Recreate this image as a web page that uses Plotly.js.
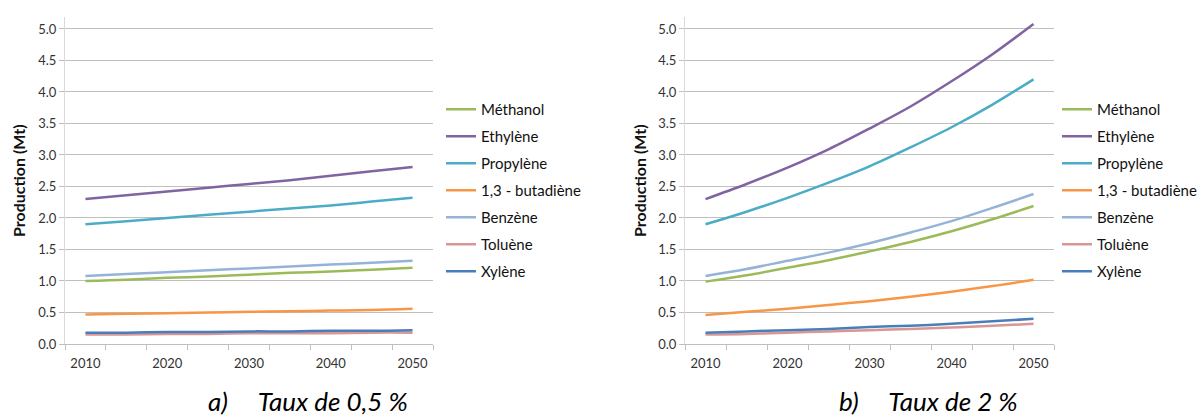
<!DOCTYPE html>
<html>
<head>
<meta charset="utf-8">
<script src="https://cdn.plot.ly/plotly-3.0.1.min.js"></script>
<style>html,body{margin:0;padding:0;background:#fff;}#chart{width:1204px;height:417px;}</style>
</head>
<body>
<div id="chart"></div>
<script>
const years = [2010, 2015, 2020, 2025, 2030, 2035, 2040, 2045, 2050];
const seriesNames = ["Méthanol", "Ethylène", "Propylène", "1,3 - butadiène", "Benzène", "Toluène", "Xylène"];
const seriesColors = ["#9BBB59", "#8064A2", "#4BACC6", "#F79646", "#95B3D7", "#D99694", "#4A7EBB"];

// a) Taux de 0,5 %
const methanolA  = [1.00, 1.02, 1.05, 1.07, 1.10, 1.13, 1.15, 1.18, 1.21];
const ethyleneA  = [2.30, 2.36, 2.42, 2.48, 2.54, 2.60, 2.67, 2.74, 2.81];
const propyleneA = [1.90, 1.95, 2.00, 2.05, 2.10, 2.15, 2.20, 2.26, 2.32];
const butadieneA = [0.47, 0.48, 0.49, 0.50, 0.51, 0.52, 0.53, 0.54, 0.56];
const benzeneA   = [1.08, 1.11, 1.14, 1.17, 1.20, 1.23, 1.26, 1.29, 1.32];
const tolueneA   = [0.15, 0.15, 0.16, 0.16, 0.17, 0.17, 0.17, 0.18, 0.18];
const xyleneA    = [0.18, 0.18, 0.19, 0.19, 0.20, 0.20, 0.21, 0.21, 0.22];

// b) Taux de 2 %
const methanolB  = [0.99, 1.09, 1.21, 1.33, 1.47, 1.62, 1.79, 1.98, 2.19];
const ethyleneB  = [2.30, 2.54, 2.80, 3.09, 3.42, 3.77, 4.17, 4.60, 5.08];
const propyleneB = [1.90, 2.10, 2.32, 2.56, 2.82, 3.12, 3.44, 3.80, 4.20];
const butadieneB = [0.46, 0.51, 0.56, 0.62, 0.68, 0.75, 0.83, 0.92, 1.02];
const benzeneB   = [1.08, 1.19, 1.32, 1.45, 1.60, 1.77, 1.95, 2.16, 2.38];
const tolueneB   = [0.15, 0.16, 0.18, 0.20, 0.22, 0.24, 0.26, 0.29, 0.32];
const xyleneB    = [0.18, 0.20, 0.22, 0.24, 0.27, 0.29, 0.32, 0.36, 0.40];

const yTitle = "Production (Mt)";
const captionA = "a)\u00a0\u00a0\u00a0\u00a0\u00a0Taux de 0,5 %";
const captionB = "b)\u00a0\u00a0\u00a0\u00a0\u00a0Taux de 2 %";

const dataA = [methanolA, ethyleneA, propyleneA, butadieneA, benzeneA, tolueneA, xyleneA];
const dataB = [methanolB, ethyleneB, propyleneB, butadieneB, benzeneB, tolueneB, xyleneB];

const FONT = "Lato, 'Open Sans', sans-serif";
const traces = [];
dataA.forEach((vals, i) => traces.push({
  x: years, y: vals, name: seriesNames[i], type: "scatter", mode: "lines",
  line: {color: seriesColors[i], width: 2.5, shape: "spline"},
  xaxis: "x", yaxis: "y", legend: "legend", legendgroup: "a" + i
}));
dataB.forEach((vals, i) => traces.push({
  x: years, y: vals, name: seriesNames[i], type: "scatter", mode: "lines",
  line: {color: seriesColors[i], width: 2.5, shape: "spline"},
  xaxis: "x2", yaxis: "y2", legend: "legend2", legendgroup: "b" + i
}));

function xAx(domain, anchor) {
  return {
    domain: domain, anchor: anchor, range: [2007.5, 2052.5],
    tickmode: "linear", tick0: 2010, dtick: 10, ticks: "", ticklabelstandoff: 7,
    showgrid: false, zeroline: false, showline: true, linecolor: "#BFBFBF", linewidth: 1,
    tickfont: {family: FONT, size: 13, color: "#333"},
    minor: {tickmode: "linear", tick0: 2007.5, dtick: 5, ticks: "outside", ticklen: 5, tickcolor: "#BFBFBF", showgrid: false},
    fixedrange: true
  };
}
function yAx(anchor) {
  return {
    domain: [0.17506, 0.95923], anchor: anchor, range: [0, 5.19],
    tickmode: "linear", tick0: 0, dtick: 0.5, tickformat: ".1f",
    ticks: "outside", ticklen: 5, tickcolor: "#BFBFBF",
    showgrid: true, gridcolor: "#BFBFBF", gridwidth: 1, zeroline: false,
    showline: true, linecolor: "#D9D9D9", linewidth: 1,
    tickfont: {family: FONT, size: 13, color: "#333"},
    fixedrange: true
  };
}
function legendCfg(x) {
  return {
    x: x, xanchor: "left", y: (417 - 93) / 417, yanchor: "top",
    font: {family: FONT, size: 15, color: "#111"},
    bgcolor: "rgba(0,0,0,0)", borderwidth: 0, itemwidth: 30,
    tracegroupgap: 4.5, traceorder: "grouped"
  };
}

const layout = {
  width: 1204, height: 417,
  margin: {l: 0, r: 0, t: 0, b: 0},
  paper_bgcolor: "#fff", plot_bgcolor: "#fff",
  font: {family: FONT, color: "#333"},
  xaxis: xAx([65 / 1204, 433 / 1204], "y"),
  yaxis: yAx("x"),
  xaxis2: xAx([685 / 1204, 1054 / 1204], "y2"),
  yaxis2: yAx("x2"),
  legend: legendCfg(441 / 1204),
  legend2: legendCfg(1057 / 1204),
  showlegend: true,
  annotations: [
    {text: "<b>" + yTitle + "</b>", textangle: -90, xref: "paper", yref: "paper",
     x: 18 / 1204, y: (417 - 181) / 417, xanchor: "center", yanchor: "middle", showarrow: false,
     font: {family: FONT, size: 16, color: "#111"}},
    {text: "<b>" + yTitle + "</b>", textangle: -90, xref: "paper", yref: "paper",
     x: 639 / 1204, y: (417 - 181) / 417, xanchor: "center", yanchor: "middle", showarrow: false,
     font: {family: FONT, size: 16, color: "#111"}},
    {text: "<i>" + captionA + "</i>", xref: "paper", yref: "paper",
     x: 308 / 1204, y: (417 - 401) / 417, xanchor: "center", yanchor: "middle", showarrow: false,
     font: {family: FONT, size: 26, color: "#000"}},
    {text: "<i>" + captionB + "</i>", xref: "paper", yref: "paper",
     x: 928 / 1204, y: (417 - 401) / 417, xanchor: "center", yanchor: "middle", showarrow: false,
     font: {family: FONT, size: 26, color: "#000"}}
  ]
};

Plotly.newPlot("chart", traces, layout, {displayModeBar: false, staticPlot: true});
</script>
</body>
</html>
